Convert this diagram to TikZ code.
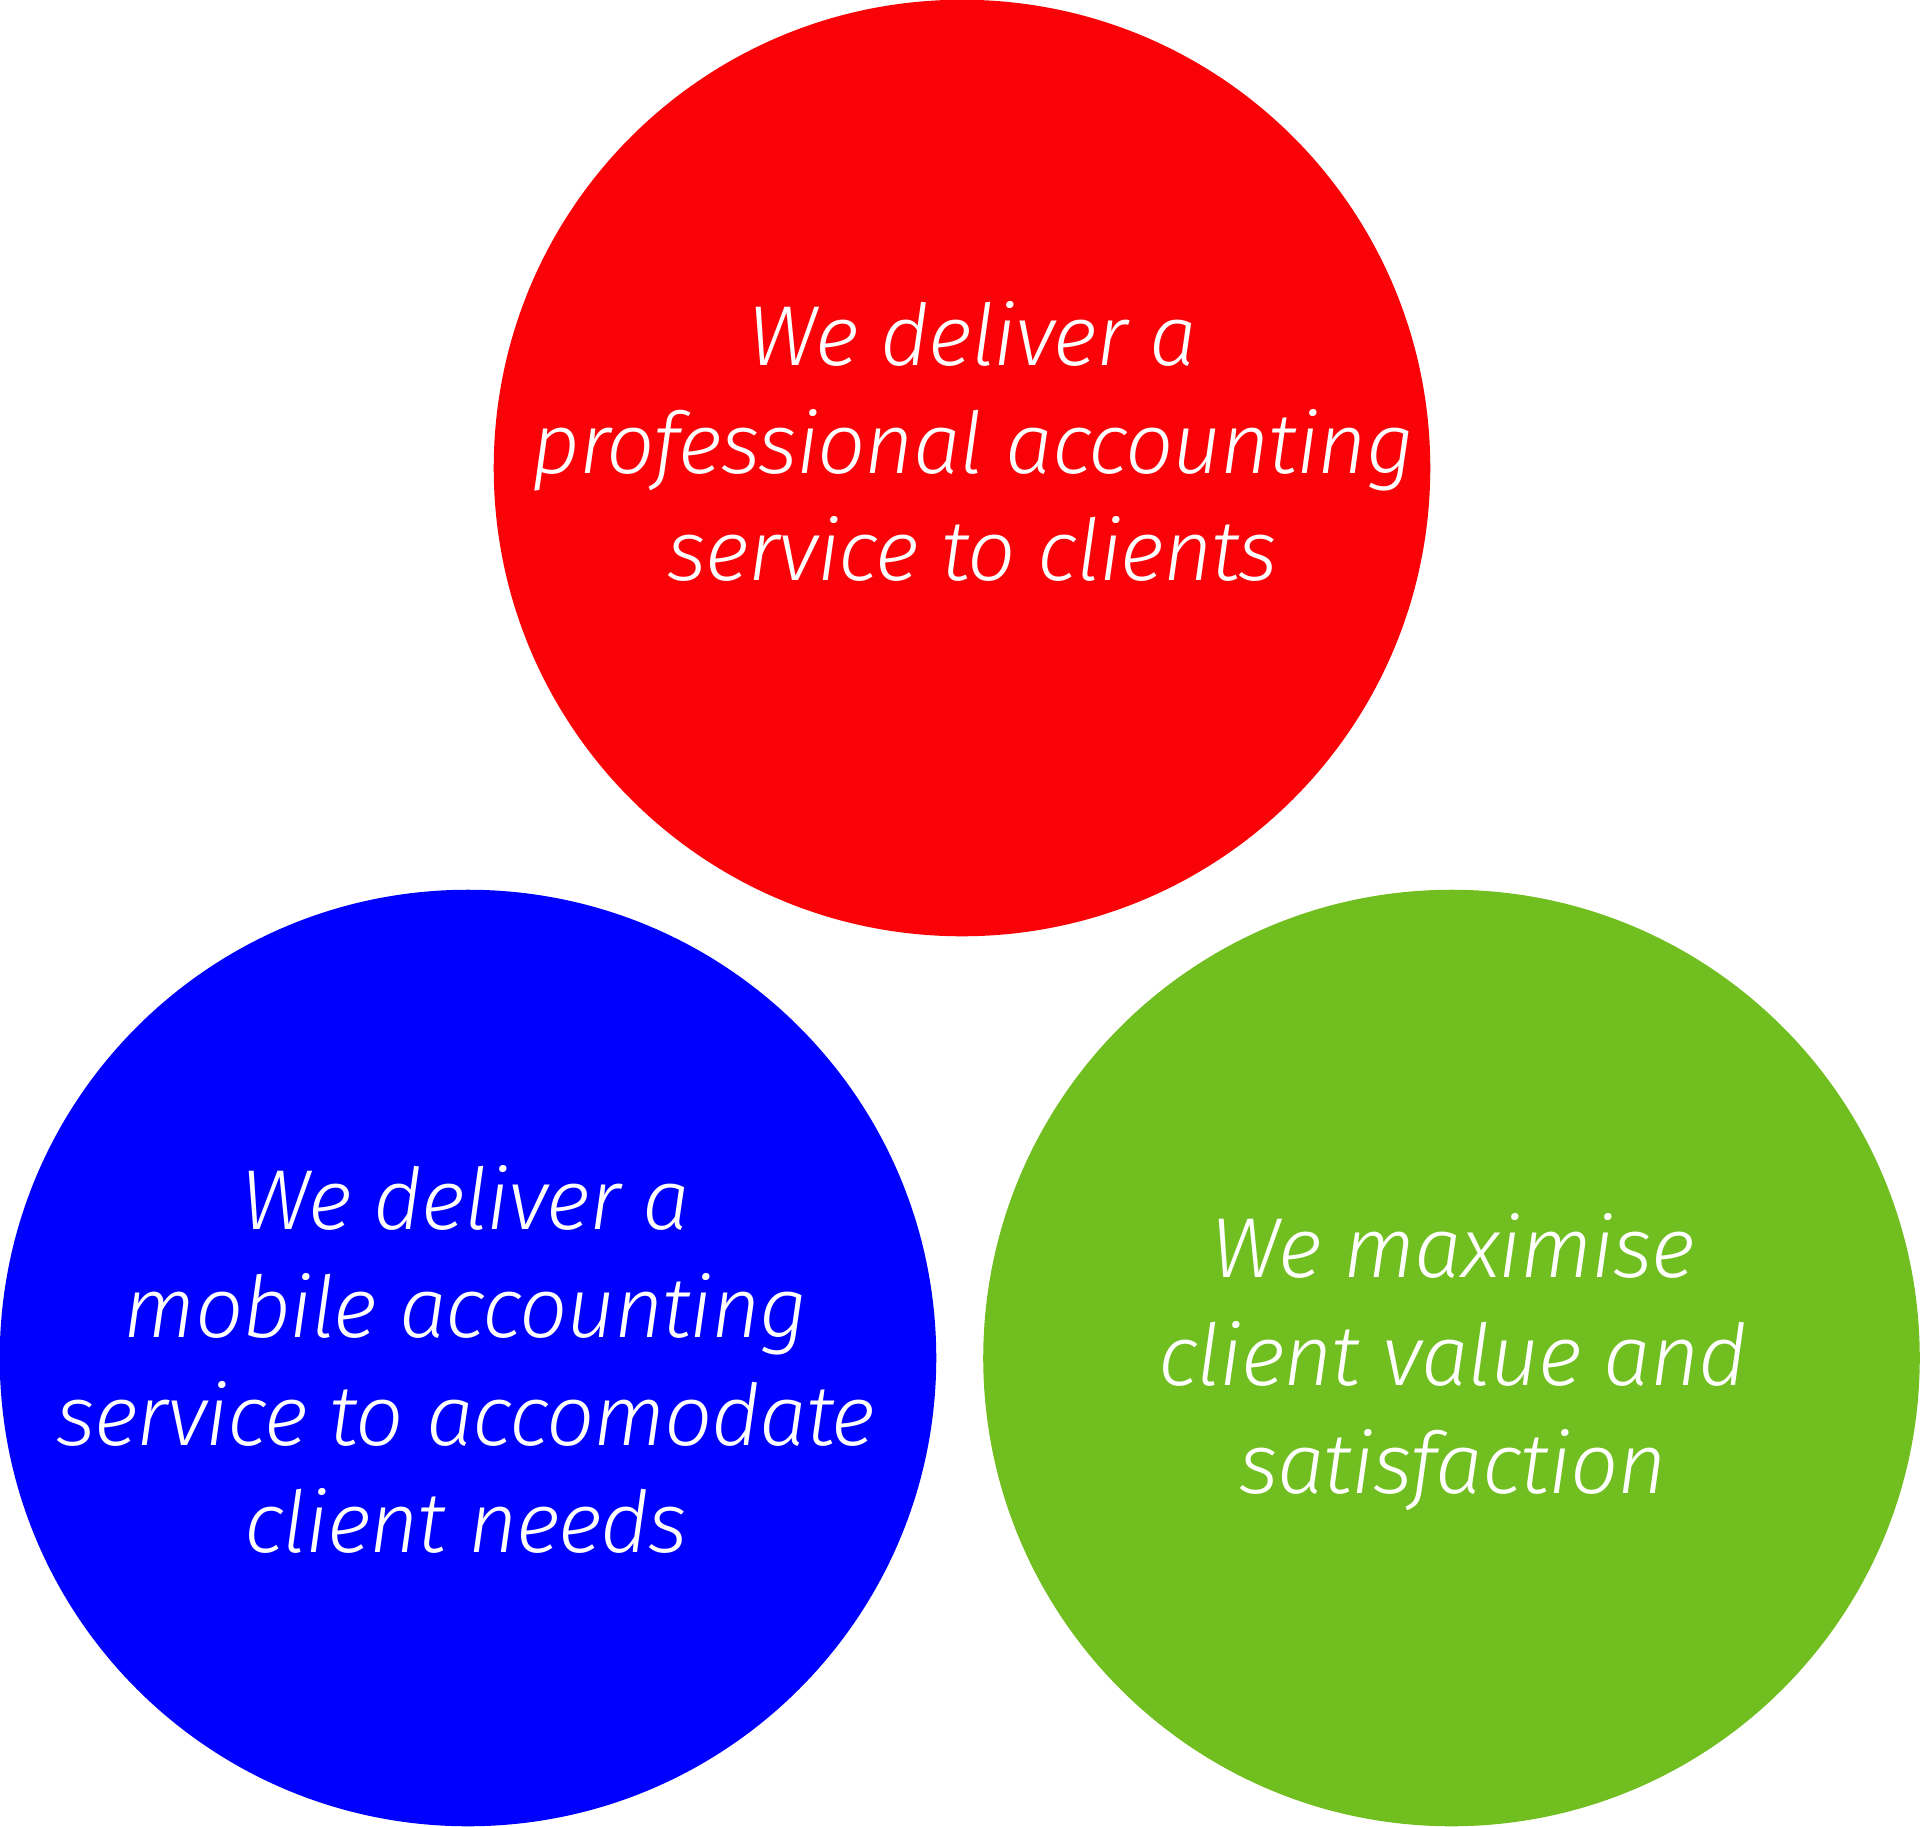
\documentclass[tikz,border=0pt]{standalone}
\usepackage{fontspec}
\setmainfont{Fira Sans}[UprightFont=* Light, ItalicFont=* Light Italic, ItalicFeatures={LetterSpace=-1.5}]
\definecolor{cred}{RGB}{250,3,8}
\definecolor{cblue}{RGB}{0,0,255}
\definecolor{cgreen}{RGB}{112,190,32}
\begin{document}
\begin{tikzpicture}[x=0.01cm,y=-0.01cm,
  disc/.style={circle,minimum size=9.36cm,inner sep=0pt,draw=none},
  txt/.style={anchor=base,inner sep=0pt,text=white,font=\fontsize{24.2pt}{30pt}\selectfont\itshape}]
\useasboundingbox (0,0) rectangle (1920,1826);
\node[disc,fill=cred] (red) at (962,468) {};
\node[disc,fill=cblue] (blue) at (468,1358) {};
\node[disc,fill=cgreen] (green) at (1451.5,1358) {};
\node[txt] (r1) at (973,365) {We deliver a};
\node[txt] (r2) at (973,473) {professional accounting};
\node[txt] (r3) at (973,580) {service to clients};
\node[txt] (b1) at (466,1229) {We deliver a};
\node[txt] (b2) at (466,1337) {mobile accounting};
\node[txt] (b3) at (466,1445) {service to accomodate};
\node[txt] (b4) at (466,1552) {client needs};
\node[txt] (g1) at (1453,1277) {We maximise};
\node[txt] (g2) at (1453,1385) {client value and};
\node[txt] (g3) at (1453,1493) {satisfaction};
\end{tikzpicture}
\end{document}
